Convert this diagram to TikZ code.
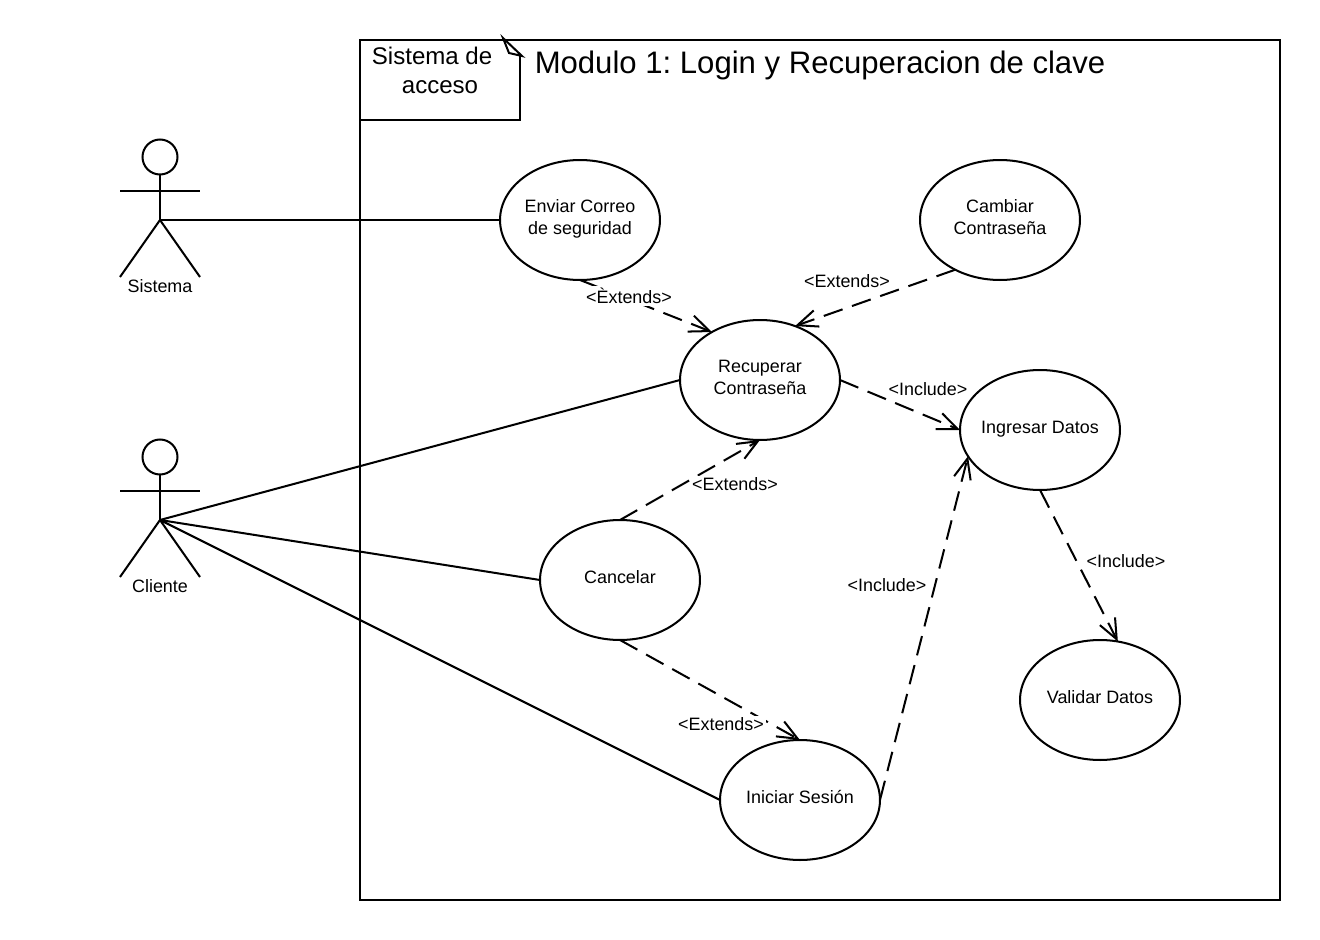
\documentclass[tikz,border=0pt]{standalone}
\usepackage{fontspec}
\setmainfont{Liberation Sans}
\usetikzlibrary{shapes.geometric,arrows.meta}
\frenchspacing
\begin{document}
\begin{tikzpicture}[x=0.02cm,y=-0.02cm,line width=1.15pt,font=\fontsize{10.2}{12.4}\selectfont]
        \tikzstyle{usecase} = [ellipse, minimum width=3.2cm, minimum height=2.4cm, outer sep=0pt, inner xsep=-4pt, inner ysep=0pt, text depth=3.4pt, align=center, draw=black, fill=white]
        \tikzstyle{arrow} = [dash pattern=on 11.3pt off 5.7pt,-{Straight Barb[length=11.5pt,width=9.7pt]}]
        \tikzstyle{tag} = [fill=white, inner sep=1pt]
        \tikzset{actor/.pic={
                \draw (0,-63) circle (17.5);
                \draw (0,-45) -- (0,0);
                \draw (-40,-29) -- (40,-29);
                \draw (-40,57) -- (0,0) -- (40,57);
        }}
                \useasboundingbox (0,0) rectangle (1320,940);

                \draw (360,40) rectangle (1280,900);
                % note in the corner
                \draw (360,40) -- (360,120) -- (520,120) -- (520,55);
                \draw (503,38) -- (522,56) -- (509,53) -- cycle;
                \node (note) at (440,70.5) [font=\fontsize{13.7}{16.6}\selectfont, align=center] {Sistema de\hspace*{9pt}\\acceso};
                \node (title) at (820,65) [font=\fontsize{17.7}{22}\selectfont] {Modulo 1: Login y Recuperacion de clave};

                \pic at (160,220) {actor};
                \pic at (160,520) {actor};
                \coordinate (sistema) at (160,220);
                \coordinate (cliente) at (160,520);
                \node (lblsistema) at (160,286) {Sistema};
                \node (lblcliente) at (160,586) {Cliente};

                \node (enviar) at (580,220) [usecase] {Enviar Correo\\de seguridad};
                \node (cambiar) at (1000,220) [usecase] {Cambiar\\Contraseña};
                \node (recuperar) at (760,380) [usecase] {Recuperar\\Contraseña};
                \node (ingresar) at (1040,430) [usecase] {Ingresar Datos};
                \node (cancelar) at (620,580) [usecase] {Cancelar};
                \node (validar) at (1100,700) [usecase] {Validar Datos};
                \node (iniciar) at (800,800) [usecase] {Iniciar Sesión};

                \draw (sistema) -- (enviar.west);
                \draw (cliente) -- (recuperar.west);
                \draw (cliente) -- (cancelar.west);
                \draw (cliente) -- (iniciar.west);

                \draw[arrow] (enviar.south) -- (recuperar.135);
                \draw[arrow] (cambiar.228) -- (recuperar.57);
                \draw[arrow] (recuperar.east) -- (ingresar.west);
                \draw[arrow] (cancelar.north) -- (recuperar.south);
                \draw[arrow] (cancelar.south) -- (iniciar.north);
                \draw[arrow] (iniciar.east) -- (ingresar.200);
                \draw[arrow] (ingresar.south) -- (validar.73);

                \node (ext1) at (629,296) [tag] {<Èxtends>};
                \node (ext2) at (847,281) [tag] {<Extends>};
                \node (inc1) at (928,389) [tag] {<Include>};
                \node (ext3) at (735,484) [tag] {<Extends>};
                \node (inc2) at (1126,561) [tag] {<Include>};
                \node (inc3) at (887,585) [tag] {<Include>};
                \node (ext4) at (721,724) [tag] {<Extends>};
    \end{tikzpicture}
\end{document}
